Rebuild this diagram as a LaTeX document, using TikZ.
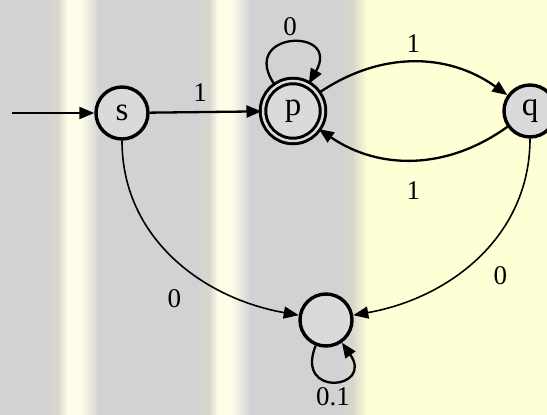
\documentclass[tikz,border=0pt]{standalone}
\usepackage{fontspec}
\setmainfont{Liberation Serif}
\usetikzlibrary{arrows.meta, positioning}
\definecolor{fondoGris}{RGB}{210,210,213}
\definecolor{fondoBorde}{RGB}{216,214,204}
\definecolor{fondoCrema}{RGB}{254,253,233}
\definecolor{fondoAmarillo}{RGB}{255,255,214}
\definecolor{rellenoEstado}{RGB}{218,218,218}

\begin{document}
\begin{tikzpicture}[x=1pt, y=1pt,
        estado/.style={circle, draw, line width=3.4pt, fill=rellenoEstado, minimum size=52pt, inner sep=0pt, font=\fontsize{33}{40}\selectfont},
        etiqueta/.style={font=\fontsize{27}{32}\selectfont, inner sep=2pt},
        flecha/.style={-{Triangle[length=15pt, width=12pt]}, line width=2.3pt}]
        \useasboundingbox (0,0) rectangle (547,415);
        \fill[fondoGris] (0,0) rectangle (547,415);
        \foreach \x in {74,225} {
            \shade[left color=fondoGris, right color=fondoBorde] (\x-30,0) rectangle (\x-16,415);
            \shade[left color=fondoBorde, right color=fondoCrema] (\x-16,0) rectangle (\x-7,415);
            \fill[fondoCrema] (\x-7,0) rectangle (\x+7,415);
            \shade[left color=fondoCrema, right color=fondoGris] (\x+7,0) rectangle (\x+25,415);
        }
        \shade[left color=fondoGris, right color=fondoBorde] (338,0) rectangle (352,415);
        \shade[left color=fondoBorde, right color=fondoAmarillo] (352,0) rectangle (368,415);
        \fill[fondoAmarillo] (368,0) rectangle (547,415);

        \node[estado] (s) at (122,302) {s};
        \node[estado, line width=3pt, double=rellenoEstado, double distance=2.5pt, minimum size=60pt] (p) at (293,304) {p};
        \node[estado] (q) at (530,304) {q};
        \node[estado] (f) at (326,95) {};
        \coordinate (inicio) at (12,302);

        \draw[flecha] (inicio) -- (s);
        \draw[flecha] (s) -- node[etiqueta, above=7pt, pos=0.45] {1} (p);
        \draw[flecha] (p) to[bend left=35] node[etiqueta, above=7pt] {1} (q);
        \draw[flecha] (q) to[bend left=35] node[etiqueta, below=19pt] {1} (p);
        \draw[flecha] (p) to[out=125, in=60, looseness=5] node[etiqueta, above=4pt] {0} (p);
        \draw[flecha, line width=1.6pt] (s) to[out=-90, in=170] node[etiqueta, below=29pt] {0} (f);
        \draw[flecha, line width=1.6pt] (q) to[out=-90, in=10] node[etiqueta, below right=6pt and 13pt] {0} (f);
        \draw[flecha] (f) to[out=-112, in=-55, looseness=5.5] node[etiqueta, below=3pt] {0.1} (f);
    \end{tikzpicture}
\end{document}
